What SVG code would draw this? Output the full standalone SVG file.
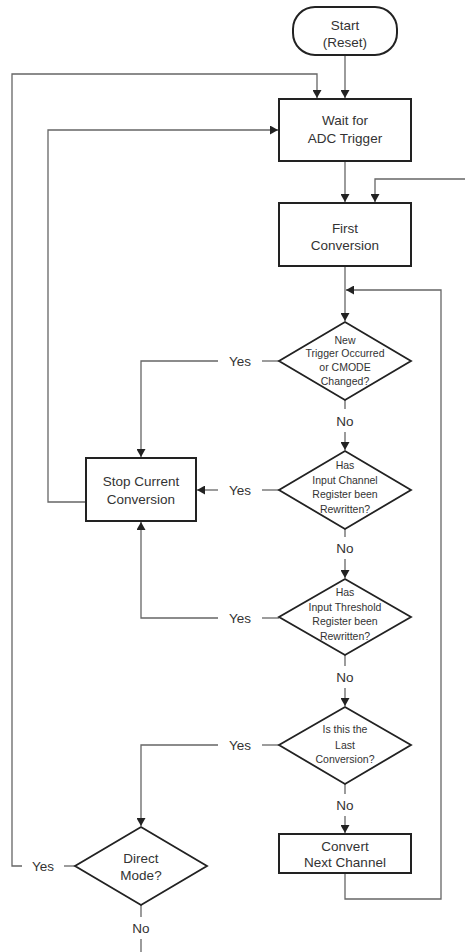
<svg xmlns="http://www.w3.org/2000/svg" width="465" height="952" viewBox="0 0 465 952">
<style>
.box{fill:#fff;stroke:#222;stroke-width:2}
.dia{fill:#fff;stroke:#222;stroke-width:1.8}
.c{fill:none;stroke:#666;stroke-width:1.3}
.t{font-family:"Liberation Sans",Arial,sans-serif;font-size:13.5px;fill:#333;text-anchor:middle}
.d{font-family:"Liberation Sans",Arial,sans-serif;font-size:10.5px;fill:#333;text-anchor:middle}
</style>
<defs>
<marker id="ah" markerUnits="userSpaceOnUse" markerWidth="9" markerHeight="9" refX="8" refY="4.5" orient="auto">
<path d="M0,0 L8,4.5 L0,9 z" fill="#222"/>
</marker>
</defs>
<g id="connectors">
<path class="c" d="M345,55 V98" marker-end="url(#ah)"/>
<path class="c" d="M22,866 H12 V74 H317 V98" marker-end="url(#ah)"/>
<path class="c" d="M64,866 H75"/>
<path class="c" d="M86,502 H48 V130 H278" marker-end="url(#ah)"/>
<path class="c" d="M345,161 V202" marker-end="url(#ah)"/>
<path class="c" d="M465,179 H375 V202" marker-end="url(#ah)"/>
<path class="c" d="M345,266 V321" marker-end="url(#ah)"/>
<path class="c" d="M345,873 V899 H441 V290 H346" marker-end="url(#ah)"/>
<path class="c" d="M279,361 H262"/>
<path class="c" d="M218,361 H141 V457" marker-end="url(#ah)"/>
<path class="c" d="M345,400 V409"/>
<path class="c" d="M345,432 V450" marker-end="url(#ah)"/>
<path class="c" d="M279,490 H262"/>
<path class="c" d="M218,490 H197" marker-end="url(#ah)"/>
<path class="c" d="M345,529 V537"/>
<path class="c" d="M345,559 V578" marker-end="url(#ah)"/>
<path class="c" d="M279,618 H262"/>
<path class="c" d="M218,618 H141 V522" marker-end="url(#ah)"/>
<path class="c" d="M345,655 V666"/>
<path class="c" d="M345,688 V706" marker-end="url(#ah)"/>
<path class="c" d="M279,745 H262"/>
<path class="c" d="M218,745 H141 V826" marker-end="url(#ah)"/>
<path class="c" d="M345,784 V794"/>
<path class="c" d="M345,816 V833" marker-end="url(#ah)"/>
<path class="c" d="M141,905 V917"/>
<path class="c" d="M141,939 V952"/>
<text class="t" x="43" y="871">Yes</text>
<text class="t" x="240" y="366">Yes</text>
<text class="t" x="240" y="495">Yes</text>
<text class="t" x="240" y="623">Yes</text>
<text class="t" x="240" y="750">Yes</text>
<text class="t" x="345" y="426">No</text>
<text class="t" x="345" y="553">No</text>
<text class="t" x="345" y="682">No</text>
<text class="t" x="345" y="810">No</text>
<text class="t" x="141" y="933">No</text>
</g>
<g id="start">
<rect class="box" x="293" y="7" width="104" height="48" rx="22" ry="22"/>
<text class="t" x="345" y="30">Start</text>
<text class="t" x="345" y="47">(Reset)</text>
</g>
<g id="wait">
<rect class="box" x="279" y="99" width="132" height="62"/>
<text class="t" x="345" y="125">Wait for</text>
<text class="t" x="345" y="143">ADC Trigger</text>
</g>
<g id="first">
<rect class="box" x="279" y="203" width="132" height="63"/>
<text class="t" x="345" y="233">First</text>
<text class="t" x="345" y="250">Conversion</text>
</g>
<g id="d1">
<polygon class="dia" points="345,322 411,361 345,400 279,361"/>
<text class="d" x="345" y="344">New</text>
<text class="d" x="345" y="357">Trigger Occurred</text>
<text class="d" x="345" y="371">or CMODE</text>
<text class="d" x="345" y="385">Changed?</text>
</g>
<g id="stop">
<rect class="box" x="86" y="458" width="110" height="63"/>
<text class="t" x="141" y="486">Stop Current</text>
<text class="t" x="141" y="504">Conversion</text>
</g>
<g id="d2">
<polygon class="dia" points="345,451 411,490 345,529 279,490"/>
<text class="d" x="345" y="469">Has</text>
<text class="d" x="345" y="484">Input Channel</text>
<text class="d" x="345" y="498">Register been</text>
<text class="d" x="345" y="513">Rewritten?</text>
</g>
<g id="d3">
<polygon class="dia" points="345,579 411,617 345,655 279,617"/>
<text class="d" x="345" y="596">Has</text>
<text class="d" x="345" y="611">Input Threshold</text>
<text class="d" x="345" y="625">Register been</text>
<text class="d" x="345" y="640">Rewritten?</text>
</g>
<g id="d4">
<polygon class="dia" points="345,707 411,745 345,784 279,745"/>
<text class="d" x="345" y="733">Is this the</text>
<text class="d" x="345" y="749">Last</text>
<text class="d" x="345" y="763">Conversion?</text>
</g>
<g id="convert">
<rect class="box" x="279" y="834" width="132" height="39"/>
<text class="t" x="345" y="851">Convert</text>
<text class="t" x="345" y="867">Next Channel</text>
</g>
<g id="direct">
<polygon class="dia" points="141,827 207,866 141,905 75,866"/>
<text class="t" x="141" y="863">Direct</text>
<text class="t" x="141" y="880">Mode?</text>
</g>
</svg>
